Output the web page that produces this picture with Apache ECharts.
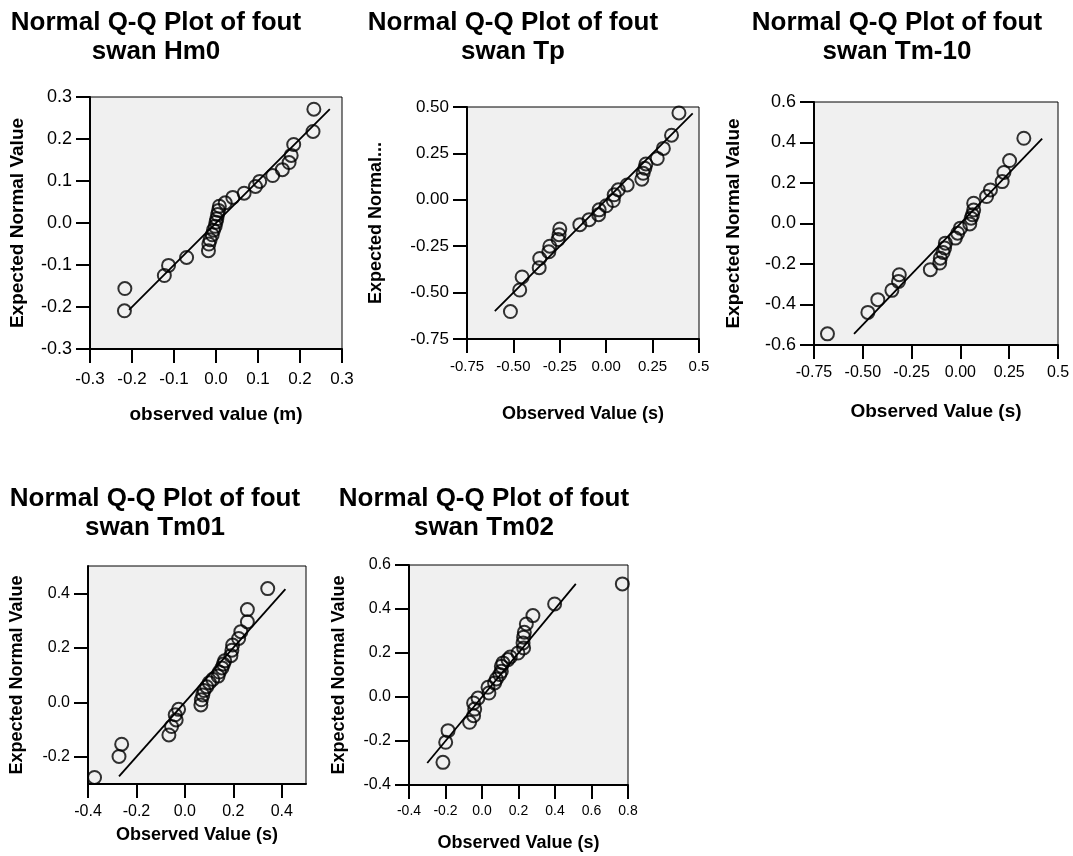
<!DOCTYPE html>
<html>
<head>
<meta charset="utf-8">
<script src="https://cdn.jsdelivr.net/npm/echarts@6/dist/echarts.min.js"></script>
<style>
html,body{margin:0;padding:0;background:#fff;}
#chart{width:1073px;height:856px;}
</style>
</head>
<body>
<div id="chart"></div>
<script>
// ---------- data ----------
const titles = [
  'Normal Q-Q Plot of fout\nswan Hm0',
  'Normal Q-Q Plot of fout\nswan Tp',
  'Normal Q-Q Plot of fout\nswan Tm-10',
  'Normal Q-Q Plot of fout\nswan Tm01',
  'Normal Q-Q Plot of fout\nswan Tm02'
];
const xNames = ['observed value (m)', 'Observed Value (s)', 'Observed Value (s)', 'Observed Value (s)', 'Observed Value (s)'];
const yNames = ['Expected Normal Value', 'Expected Normal...', 'Expected Normal Value', 'Expected Normal Value', 'Expected Normal Value'];

// Hm0
const hm0Obs = [-0.217,-0.218,-0.123,-0.113,-0.070,-0.018,-0.017,-0.014,-0.009,-0.006,-0.002,0.000,0.002,0.004,0.006,0.008,0.022,0.040,0.067,0.094,0.104,0.135,0.158,0.174,0.179,0.185,0.231,0.233];
const hm0Exp = [-0.156,-0.209,-0.125,-0.101,-0.082,-0.066,-0.050,-0.040,-0.028,-0.017,-0.008,0.002,0.010,0.020,0.030,0.040,0.048,0.061,0.071,0.087,0.099,0.113,0.127,0.144,0.161,0.187,0.218,0.271];
const hm0Line = [-0.207, 0.271];
// Tp
const tpObs = [-0.516,-0.466,-0.453,-0.361,-0.358,-0.309,-0.304,-0.259,-0.254,-0.250,-0.142,-0.092,-0.041,-0.038,0.000,0.038,0.043,0.065,0.113,0.192,0.199,0.208,0.214,0.275,0.308,0.352,0.392];
const tpExp = [-0.602,-0.486,-0.416,-0.366,-0.316,-0.280,-0.250,-0.214,-0.188,-0.157,-0.134,-0.107,-0.080,-0.054,-0.032,-0.004,0.027,0.054,0.080,0.111,0.143,0.170,0.193,0.223,0.277,0.348,0.468];
const tpLine = [-0.600, 0.466];
// Tm-10
const tm10Obs = [-0.681,-0.474,-0.423,-0.351,-0.317,-0.313,-0.154,-0.106,-0.103,-0.089,-0.081,-0.077,-0.026,-0.014,0.000,0.048,0.055,0.062,0.068,0.068,0.134,0.154,0.214,0.223,0.252,0.325];
const tm10Exp = [-0.545,-0.439,-0.376,-0.330,-0.286,-0.253,-0.228,-0.195,-0.171,-0.143,-0.121,-0.097,-0.072,-0.048,-0.023,-0.002,0.026,0.043,0.067,0.100,0.133,0.166,0.207,0.252,0.311,0.421];
const tm10Line = [-0.545, 0.419];
// Tm01
const tm01Obs = [-0.373,-0.272,-0.261,-0.066,-0.055,-0.036,-0.040,-0.026,0.066,0.068,0.074,0.079,0.090,0.101,0.115,0.137,0.142,0.153,0.159,0.164,0.190,0.194,0.197,0.222,0.231,0.258,0.258,0.342];
const tm01Exp = [-0.276,-0.199,-0.154,-0.120,-0.089,-0.065,-0.046,-0.026,-0.010,0.009,0.027,0.043,0.057,0.072,0.084,0.096,0.111,0.126,0.140,0.152,0.171,0.191,0.210,0.234,0.259,0.295,0.340,0.417];
const tm01Line = [-0.272, 0.415];
// Tm02
const tm02Obs = [-0.214,-0.199,-0.186,-0.068,-0.046,-0.040,-0.046,-0.022,0.038,0.033,0.069,0.079,0.097,0.106,0.106,0.115,0.142,0.155,0.197,0.228,0.225,0.228,0.232,0.243,0.279,0.398,0.769];
const tm02Exp = [-0.297,-0.206,-0.153,-0.115,-0.085,-0.055,-0.027,-0.005,0.018,0.044,0.064,0.082,0.102,0.117,0.140,0.155,0.170,0.182,0.200,0.223,0.246,0.272,0.294,0.332,0.370,0.423,0.514];
const tm02Line = [-0.300, 0.514];

// tick values and labels
const hm0XTicks = [-0.3,-0.2,-0.1,0,0.1,0.2,0.3];
const hm0XLabels = ['-0.3','-0.2','-0.1','0.0','0.1','0.2','0.3'];
const hm0YTicks = [-0.3,-0.2,-0.1,0,0.1,0.2,0.3];
const hm0YLabels = ['-0.3','-0.2','-0.1','0.0','0.1','0.2','0.3'];
const tpXTicks = [-0.75,-0.5,-0.25,0,0.25,0.5];
const tpXLabels = ['-0.75','-0.50','-0.25','0.00','0.25','0.5'];
const tpYTicks = [-0.75,-0.5,-0.25,0,0.25,0.5];
const tpYLabels = ['-0.75','-0.50','-0.25','0.00','0.25','0.50'];
const tm10XTicks = [-0.75,-0.5,-0.25,0,0.25,0.5];
const tm10XLabels = ['-0.75','-0.50','-0.25','0.00','0.25','0.5'];
const tm10YTicks = [-0.6,-0.4,-0.2,0,0.2,0.4,0.6];
const tm10YLabels = ['-0.6','-0.4','-0.2','0.0','0.2','0.4','0.6'];
const tm01XTicks = [-0.4,-0.2,0,0.2,0.4];
const tm01XLabels = ['-0.4','-0.2','0.0','0.2','0.4'];
const tm01YTicks = [-0.2,0,0.2,0.4];
const tm01YLabels = ['-0.2','0.0','0.2','0.4'];
const tm02XTicks = [-0.4,-0.2,0,0.2,0.4,0.6,0.8];
const tm02XLabels = ['-0.4','-0.2','0.0','0.2','0.4','0.6','0.8'];
const tm02YTicks = [-0.4,-0.2,0,0.2,0.4,0.6];
const tm02YLabels = ['-0.4','-0.2','0.0','0.2','0.4','0.6'];

// ---------- layout / style ----------
const panels = [
  {obs: hm0Obs, exp: hm0Exp, line: hm0Line, xr:[-0.3,0.3], yr:[-0.3,0.3], xt:hm0XTicks, xl:hm0XLabels, yt:hm0YTicks, yl:hm0YLabels,
   grid:{left:90, top:97, width:252, height:252}, title:{x:156, y:8}, xFont:17, yFont:18, nameFont:19, xMargin:22, xGap:56, yGap:63},
  {obs: tpObs, exp: tpExp, line: tpLine, xr:[-0.75,0.5], yr:[-0.75,0.5], xt:tpXTicks, xl:tpXLabels, yt:tpYTicks, yl:tpYLabels,
   grid:{left:467, top:107, width:232, height:232}, title:{x:513, y:8}, xFont:15, yFont:17, nameFont:18, xMargin:20, xGap:66, yGap:82},
  {obs: tm10Obs, exp: tm10Exp, line: tm10Line, xr:[-0.75,0.5], yr:[-0.6,0.6], xt:tm10XTicks, xl:tm10XLabels, yt:tm10YTicks, yl:tm10YLabels,
   grid:{left:814, top:102, width:244, height:243}, title:{x:897, y:8}, xFont:16, yFont:18, nameFont:19, xMargin:20, xGap:57, yGap:71},
  {obs: tm01Obs, exp: tm01Exp, line: tm01Line, xr:[-0.4,0.5], yr:[-0.3,0.5], xt:tm01XTicks, xl:tm01XLabels, yt:tm01YTicks, yl:tm01YLabels,
   grid:{left:88, top:566, width:218, height:218}, title:{x:155, y:484}, xFont:16, yFont:16, nameFont:18, xMargin:20, xGap:42, yGap:62},
  {obs: tm02Obs, exp: tm02Exp, line: tm02Line, xr:[-0.4,0.8], yr:[-0.4,0.6], xt:tm02XTicks, xl:tm02XLabels, yt:tm02YTicks, yl:tm02YLabels,
   grid:{left:409, top:565, width:219, height:220}, title:{x:484, y:484}, xFont:14, yFont:16, nameFont:18, xMargin:19, xGap:49, yGap:61}
];

const FONT = 'Liberation Sans, Arial, sans-serif';
const grids = [], xAxes = [], yAxes = [], series = [], graphics = [];

function labelFor(ticks, labels) {
  return function (v) {
    for (let i = 0; i < ticks.length; i++) {
      if (Math.abs(ticks[i] - v) < 1e-9) return labels[i];
    }
    return '';
  };
}

panels.forEach((p, i) => {
  grids.push(Object.assign({show: true, backgroundColor: '#f0f0f0', borderColor: '#000', borderWidth: 1, containLabel: false}, p.grid));
  xAxes.push({
    type: 'value', gridIndex: i, min: p.xr[0], max: p.xr[1],
    name: xNames[i], nameLocation: 'middle', nameGap: p.xGap,
    nameTextStyle: {fontFamily: FONT, fontSize: p.nameFont, fontWeight: 'bold', color: '#000', verticalAlign: 'top'},
    axisLine: {show: true, onZero: false, lineStyle: {color: '#000', width: 2}},
    axisTick: {show: true, inside: false, length: 14, lineStyle: {color: '#000', width: 2}, customValues: p.xt},
    axisLabel: {show: true, margin: p.xMargin, fontFamily: FONT, fontSize: p.xFont, color: '#000', customValues: p.xt, formatter: labelFor(p.xt, p.xl), showMinLabel: true, showMaxLabel: true},
    splitLine: {show: false}
  });
  yAxes.push({
    type: 'value', gridIndex: i, min: p.yr[0], max: p.yr[1],
    name: yNames[i], nameLocation: 'middle', nameGap: p.yGap, nameRotate: 90,
    nameTextStyle: {fontFamily: FONT, fontSize: p.nameFont, fontWeight: 'bold', color: '#000'},
    axisLine: {show: true, onZero: false, lineStyle: {color: '#000', width: 2}},
    axisTick: {show: true, inside: false, length: 14, lineStyle: {color: '#000', width: 2}, customValues: p.yt},
    axisLabel: {show: true, margin: 18, fontFamily: FONT, fontSize: p.yFont, color: '#000', customValues: p.yt, formatter: labelFor(p.yt, p.yl), showMinLabel: true, showMaxLabel: true},
    splitLine: {show: false}
  });
  series.push({
    type: 'line', xAxisIndex: i, yAxisIndex: i,
    data: [[p.line[0], p.line[0]], [p.line[1], p.line[1]]],
    symbol: 'none', lineStyle: {color: '#000', width: 1.8}, z: 2, silent: true
  });
  series.push({
    type: 'scatter', xAxisIndex: i, yAxisIndex: i,
    data: p.obs.map((v, k) => [v, p.exp[k]]),
    symbol: 'circle', symbolSize: 13,
    itemStyle: {color: 'rgba(0,0,0,0)', borderColor: '#000', borderWidth: 2},
    z: 3, clip: false
  });
  graphics.push({
    type: 'text', x: p.title.x, y: p.title.y,
    style: {text: titles[i], font: 'bold 26px ' + FONT, fill: '#000', textAlign: 'center', textVerticalAlign: 'top', lineHeight: 29}
  });
});

const chart = echarts.init(document.getElementById('chart'), null, {renderer: 'canvas'});
chart.setOption({
  animation: false,
  backgroundColor: '#fff',
  grid: grids, xAxis: xAxes, yAxis: yAxes, series: series,
  graphic: graphics
});
</script>
</body>
</html>
